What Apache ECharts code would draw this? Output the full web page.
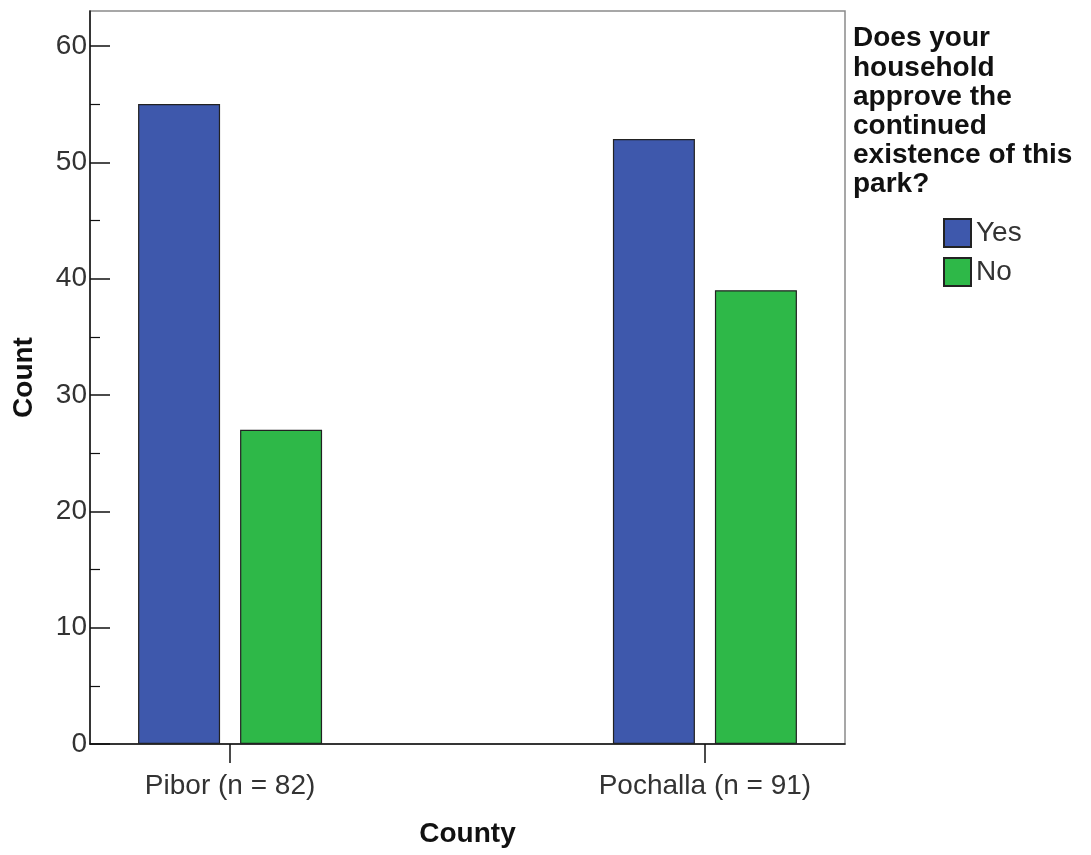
<!DOCTYPE html>
<html>
<head>
<meta charset="utf-8">
<script src="https://cdn.jsdelivr.net/npm/echarts@6/dist/echarts.min.js"></script>
<style>html,body{margin:0;padding:0;background:#fff}#c{width:1091px;height:855px}</style>
</head>
<body>
<div id="c"></div>
<script>
var categories = ['Pibor (n = 82)', 'Pochalla (n = 91)'];
var seriesNames = ['Yes', 'No'];
var yesValues = [55, 52];
var noValues = [27, 39];
var yTickLabels = [0, 10, 20, 30, 40, 50, 60];
var yMinorTicks = [5, 15, 25, 35, 45, 55];
var legendTitle = 'Does your\nhousehold\napprove the\ncontinued\nexistence of this\npark?';

var FONT = '"Liberation Sans", Arial, sans-serif';
var catPos = categories.map(function (c, i) { return i; });
function toPairs(vals) { return vals.map(function (v, i) { return [i, v]; }); }

var chart = echarts.init(document.getElementById('c'), null, { renderer: 'canvas' });
chart.setOption({
  animation: false,
  backgroundColor: '#fff',
  title: {
    text: legendTitle,
    left: 853, top: 24,
    padding: 0,
    textStyle: { fontFamily: FONT, fontSize: 28, fontWeight: 'bold', color: '#111', lineHeight: 29.2 }
  },
  legend: {
    orient: 'vertical',
    left: 943, top: 218,
    padding: 0,
    itemWidth: 27, itemHeight: 28, itemGap: 9,
    icon: 'rect',
    textStyle: { fontFamily: FONT, fontSize: 28, color: '#333' },
    data: seriesNames
  },
  grid: {
    left: 90, right: 246, top: 11, bottom: 111,
    show: true, borderColor: '#8a8a8a', borderWidth: 1.5, backgroundColor: '#fff'
  },
  xAxis: {
    type: 'value',
    min: -0.295, max: 1.295,
    name: 'County', nameLocation: 'middle', nameGap: 76,
    nameTextStyle: { fontFamily: FONT, fontSize: 28, fontWeight: 'bold', color: '#111' },
    axisLine: { show: true, onZero: false, lineStyle: { color: '#111', width: 1.5 } },
    axisTick: { show: true, inside: false, length: 19, customValues: catPos, lineStyle: { color: '#111', width: 1.5 } },
    axisLabel: {
      customValues: catPos, margin: 28,
      fontFamily: FONT, fontSize: 28, color: '#333',
      formatter: function (v) { return categories[Math.round(v)] || ''; }
    },
    splitLine: { show: false }
  },
  yAxis: [{
    type: 'value', min: 0, max: 63,
    name: 'Count', nameLocation: 'middle', nameGap: 52,
    nameTextStyle: { fontFamily: FONT, fontSize: 28, fontWeight: 'bold', color: '#111' },
    axisLine: { show: true, onZero: false, lineStyle: { color: '#111', width: 1.5 } },
    axisTick: { show: true, inside: true, length: 20, customValues: yTickLabels, lineStyle: { color: '#111', width: 1.5 } },
    axisLabel: { customValues: yTickLabels, margin: 3, fontFamily: FONT, fontSize: 28, color: '#333' },
    splitLine: { show: false }
  }, {
    type: 'value', min: 0, max: 63, position: 'left',
    axisLine: { show: false, onZero: false },
    axisTick: { show: true, inside: true, length: 10, customValues: yMinorTicks, lineStyle: { color: '#111', width: 1.2 } },
    axisLabel: { show: false },
    splitLine: { show: false }
  }],
  series: [{
    name: seriesNames[0], type: 'bar', data: toPairs(yesValues),
    barWidth: 82, barGap: '24.4%',
    itemStyle: { color: '#3e58ac', borderColor: '#222', borderWidth: 1.2 }
  }, {
    name: seriesNames[1], type: 'bar', data: toPairs(noValues),
    barWidth: 82, barGap: '24.4%',
    itemStyle: { color: '#2eb848', borderColor: '#222', borderWidth: 1.2 }
  }]
});
</script>
</body>
</html>
